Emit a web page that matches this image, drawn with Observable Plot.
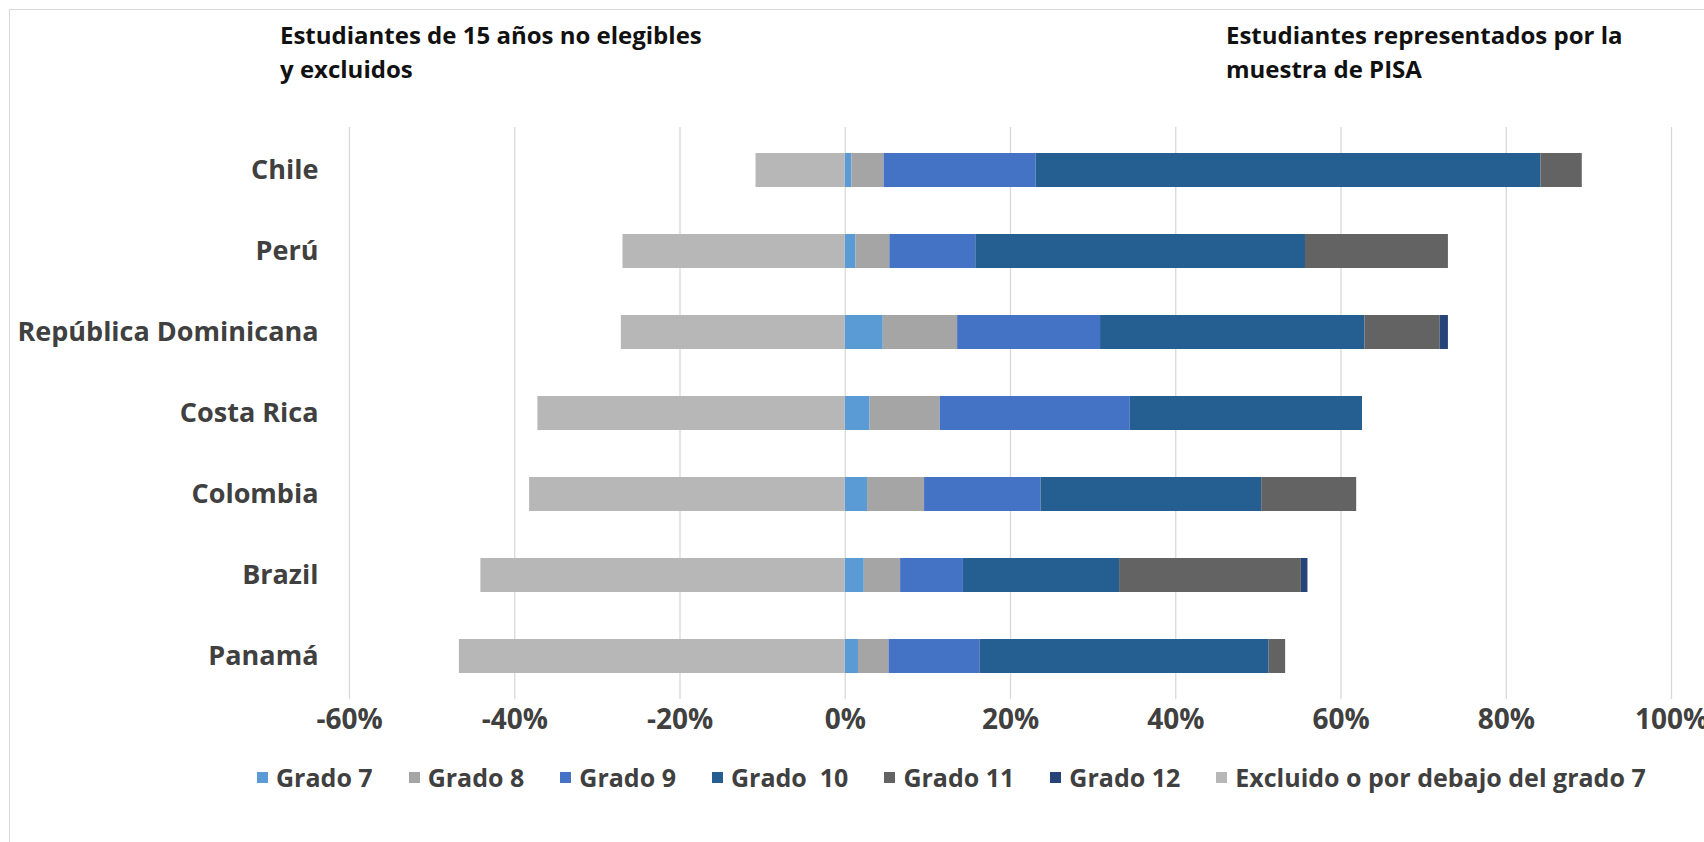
<!DOCTYPE html>
<html>
<head>
<meta charset="utf-8">
<script src="https://cdn.jsdelivr.net/npm/d3@7"></script>
<script src="https://cdn.jsdelivr.net/npm/@observablehq/plot@0.6"></script>
<style>
  html, body { margin: 0; padding: 0; background: #fff; }
  #wrap { position: relative; width: 1704px; height: 842px; overflow: hidden; font-family: "Open Sans", sans-serif; }
  #frame { position: absolute; left: 9px; top: 9px; width: 1800px; height: 900px; border-left: 1px solid #d9d9d9; border-top: 1px solid #d9d9d9; }
  .title { position: absolute; font-weight: 700; font-size: 24px; line-height: 34.5px; color: #111; white-space: nowrap; }
  #legend { position: absolute; left: 257px; top: 760px; display: flex; align-items: center; column-gap: 36px; font-weight: 700; font-size: 25px; color: #404040; white-space: pre; }
  #legend .item { display: flex; align-items: center; }
  #legend .sw { width: 11px; height: 11px; margin-right: 8px; }
  #chart { position: absolute; left: 0; top: 0; }
</style>
</head>
<body>
<div id="wrap">
  <div id="frame"></div>
  <div id="chart"></div>
  <div class="title" style="left:280px; top:17.5px;">Estudiantes de 15 años no elegibles<br>y excluidos</div>
  <div class="title" style="left:1226px; top:17.5px;">Estudiantes representados por la<br>muestra de PISA</div>
  <div id="legend"></div>
</div>
<script>
const countries = ["Chile", "Perú", "República Dominicana", "Costa Rica", "Colombia", "Brazil", "Panamá"];
const seriesNames = ["Grado 7", "Grado 8", "Grado 9", "Grado  10", "Grado 11", "Grado 12", "Excluido o por debajo del grado 7"];
const seriesColors = ["#5b9bd5", "#a5a5a5", "#4472c4", "#255e91", "#636363", "#264478", "#b7b7b7"];

const grado7   = [0.8, 1.3, 4.6, 3.0, 2.7, 2.3, 1.6];
const grado8   = [3.9, 4.1, 9.0, 8.5, 6.9, 4.4, 3.7];
const grado9   = [18.4, 10.4, 17.3, 23.0, 14.1, 7.6, 11.0];
const grado10  = [61.1, 39.9, 32.0, 28.1, 26.7, 18.9, 35.0];
const grado11  = [5.0, 17.3, 9.1, 0, 11.5, 22.0, 2.0];
const grado12  = [0, 0, 1.0, 0, 0, 0.8, 0];
const excluido = [-10.8, -26.9, -27.1, -37.2, -38.2, -44.1, -46.7];

const xTicks = [-60, -40, -20, 0, 20, 40, 60, 80, 100];

const seriesValues = [grado7, grado8, grado9, grado10, grado11, grado12, excluido];
const data = [];
seriesNames.forEach((s, i) => {
  countries.forEach((c, j) => {
    data.push({country: c, series: s, value: seriesValues[i][j]});
  });
});

const chart = Plot.plot({
  width: 1704,
  height: 750,
  marginLeft: 349,
  marginRight: 33,
  marginTop: 127,
  marginBottom: 51,
  style: {fontFamily: "Open Sans, sans-serif", fontSize: "27px", fontWeight: 700, color: "#404040", background: "transparent", overflow: "visible"},
  x: {domain: [-60, 100], ticks: xTicks, tickFormat: d => d + "%", label: null},
  y: {domain: countries, paddingInner: 0.58, paddingOuter: 0.29, label: null},
  color: {domain: seriesNames, range: seriesColors},
  marks: [
    Plot.gridX(xTicks, {stroke: "#d9d9d9", strokeOpacity: 1, strokeWidth: 1.3}),
    Plot.barX(data, {x: "value", y: "country", fill: "series"}),
    Plot.axisX({ticks: xTicks, tickSize: 0, tickPadding: 10, tickFormat: d => d + "%", label: null, fontSize: 28}),
    Plot.axisY({tickSize: 0, tickPadding: 31, label: null, fontSize: 27})
  ]
});
document.getElementById("chart").appendChild(chart);

const legend = document.getElementById("legend");
seriesNames.forEach((s, i) => {
  const item = document.createElement("div");
  item.className = "item";
  const sw = document.createElement("span");
  sw.className = "sw";
  sw.style.background = seriesColors[i];
  const t = document.createElement("span");
  t.textContent = s;
  item.appendChild(sw);
  item.appendChild(t);
  legend.appendChild(item);
});
</script>
</body>
</html>
